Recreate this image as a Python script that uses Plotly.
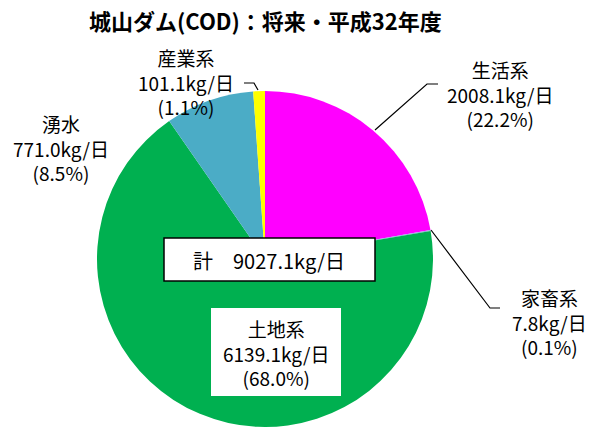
import plotly.graph_objects as go

W, H = 598, 428

names = ["生活系", "家畜系", "土地系", "湧水", "産業系"]
values = [2008.1, 7.8, 6139.1, 771.0, 101.1]
colors = ["#FF00FF", "#8FA8E0", "#00B050", "#4BACC6", "#FFFF00"]
title_text = "城山ダム(COD)：将来・平成32年度"
total_label = "計　{:.1f}kg/日"

total = sum(values)
pcts = [v / total * 100 for v in values]

FONT = "Noto Sans CJK JP"


def px(x):
    return x / W


def py(y):
    return 1 - y / H


fig = go.Figure()
fig.add_trace(go.Pie(
    labels=names, values=values, sort=False, direction="clockwise", rotation=0,
    marker=dict(colors=colors, line=dict(width=0)),
    textinfo="none", hoverinfo="label+value+percent", showlegend=False,
    domain=dict(x=[px(97), px(433)], y=[py(427), py(91)]),
))

# label layout: center x, middle-line center y
label_pos = {
    "生活系": (500, 94),
    "家畜系": (549, 322),
    "土地系": (276, 353),
    "湧水": (61, 148),
    "産業系": (186, 82),
}

shapes = []
shapes.append(dict(type="rect", xref="paper", yref="paper",
                   x0=px(211), x1=px(341), y0=py(396), y1=py(308),
                   fillcolor="white", line=dict(width=0), layer="above"))
shapes.append(dict(type="rect", xref="paper", yref="paper",
                   x0=px(164), x1=px(375), y0=py(281), y1=py(238),
                   fillcolor="white", line=dict(width=1.5, color="black"), layer="above"))

leaders = [
    [(375, 130), (427, 84), (438, 84)],
    [(431, 230), (490, 308), (500, 308)],
    [(244, 83), (254, 83), (258, 90)],
]
for pts in leaders:
    path = "M " + " L ".join(f"{px(x)},{py(y)}" for x, y in pts)
    shapes.append(dict(type="path", xref="paper", yref="paper", path=path,
                       line=dict(color="black", width=1.2)))

annotations = []
for n, v, p in zip(names, values, pcts):
    cx, cy = label_pos[n]
    text = "<br>".join([n, f"{v:.1f}kg/日", f"({p:.1f}%)"])
    annotations.append(dict(x=px(cx), y=py(cy), xref="paper", yref="paper",
                            text=text, showarrow=False, xanchor="center", yanchor="middle",
                            align="center",
                            font=dict(family=FONT, size=19, color="black")))

annotations.append(dict(x=px(269), y=py(260), xref="paper", yref="paper",
                        text=total_label.format(total), showarrow=False,
                        xanchor="center", yanchor="middle",
                        font=dict(family=FONT, size=20, color="black")))
annotations.append(dict(x=px(265), y=py(20), xref="paper", yref="paper",
                        text=f"<b>{title_text}</b>", showarrow=False,
                        xanchor="center", yanchor="middle",
                        font=dict(family=FONT, size=22, color="black")))

fig.update_layout(
    width=W, height=H, margin=dict(l=0, r=0, t=0, b=0),
    paper_bgcolor="white", plot_bgcolor="white",
    shapes=shapes, annotations=annotations,
)

fig.write_html("out.html", config={"displayModeBar": False},
               post_script="document.body.style.margin='0';")
